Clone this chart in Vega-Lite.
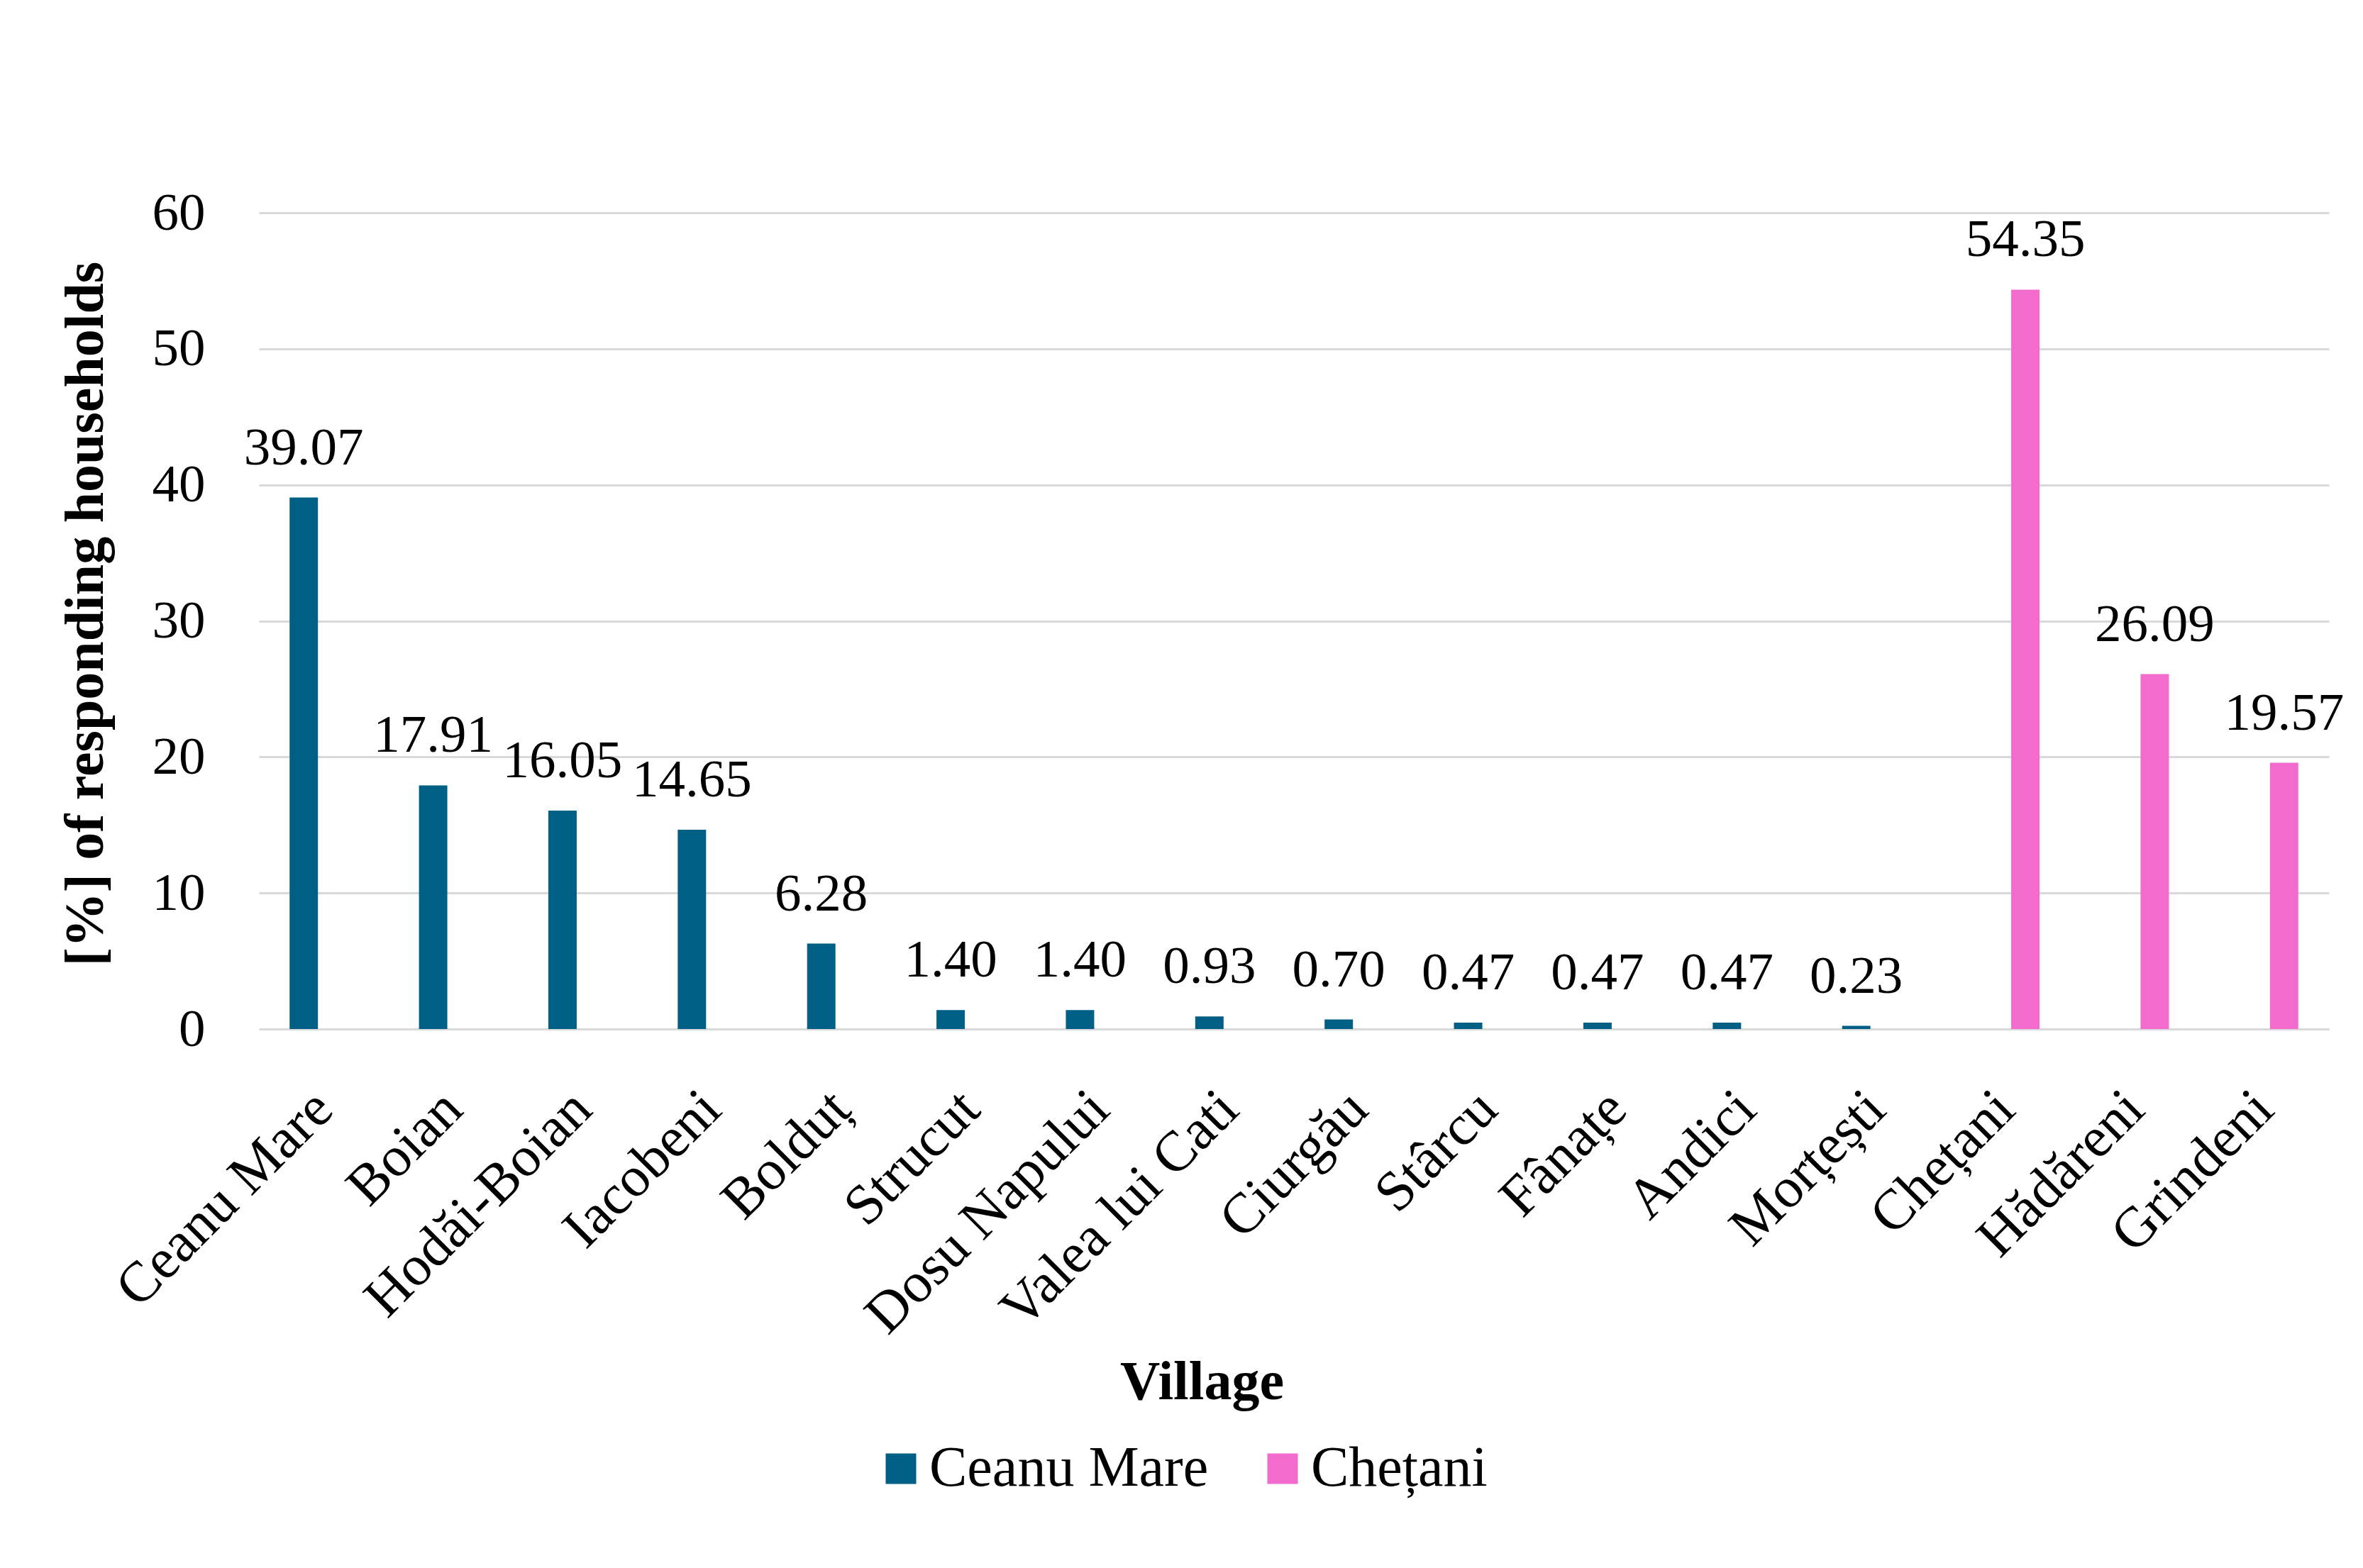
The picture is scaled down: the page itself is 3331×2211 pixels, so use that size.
{
  "$schema": "https://vega.github.io/schema/vega-lite/v6.json",
  "width": 2918,
  "height": 1151,
  "autosize": {"type": "none"},
  "padding": {"left": 365, "top": 300, "right": 48, "bottom": 760},
  "background": "white",
  "config": {"view": {"stroke": null}, "font": "Liberation Serif"},
  "data": {
    "values": [
      {"village": "Ceanu Mare", "group": "Ceanu Mare", "value": 39.07},
      {"village": "Boian", "group": "Ceanu Mare", "value": 17.91},
      {"village": "Hodăi-Boian", "group": "Ceanu Mare", "value": 16.05},
      {"village": "Iacobeni", "group": "Ceanu Mare", "value": 14.65},
      {"village": "Bolduț", "group": "Ceanu Mare", "value": 6.28},
      {"village": "Strucut", "group": "Ceanu Mare", "value": 1.40},
      {"village": "Dosu Napului", "group": "Ceanu Mare", "value": 1.40},
      {"village": "Valea lui Cati", "group": "Ceanu Mare", "value": 0.93},
      {"village": "Ciurgău", "group": "Ceanu Mare", "value": 0.70},
      {"village": "Stârcu", "group": "Ceanu Mare", "value": 0.47},
      {"village": "Fânațe", "group": "Ceanu Mare", "value": 0.47},
      {"village": "Andici", "group": "Ceanu Mare", "value": 0.47},
      {"village": "Morțești", "group": "Ceanu Mare", "value": 0.23},
      {"village": "Chețani", "group": "Chețani", "value": 54.35},
      {"village": "Hădăreni", "group": "Chețani", "value": 26.09},
      {"village": "Grindeni", "group": "Chețani", "value": 19.57}
    ]
  },
  "encoding": {
    "x": {
      "field": "village", "type": "nominal", "sort": null,
      "scale": {"paddingInner": 0.474, "paddingOuter": 0.237},
      "axis": {
        "title": "Village", "labelAngle": -45, "labelFontSize": 80, "labelColor": "black",
        "labelBaseline": "middle", "labelAlign": "right",
        "labelPadding": 100, "ticks": false, "domainColor": "#d9d9d9", "domainWidth": 3,
        "labelLimit": 0, "titleFontSize": 78, "titleFontWeight": "bold", "titleColor": "black",
        "titleBaseline": "middle", "titleY": 498, "titleX": 1329
      }
    },
    "xOffset": {
      "field": "group", "type": "nominal", "sort": ["Ceanu Mare", "Chețani"],
      "scale": {"paddingInner": 0.286, "paddingOuter": 0}
    },
    "y": {
      "field": "value", "type": "quantitative",
      "scale": {"domain": [0, 60]},
      "axis": {
        "values": [0, 10, 20, 30, 40, 50, 60], "title": "[%] of responding households",
        "grid": true, "gridColor": "#d9d9d9", "gridWidth": 3, "domain": false, "ticks": false,
        "labelPadding": 76, "labelFontSize": 75, "labelColor": "black",
        "titleFontSize": 78, "titleFontWeight": "bold", "titleColor": "black",
        "titleX": -244, "titleY": 565, "titleBaseline": "middle"
      }
    }
  },
  "layer": [
    {
      "mark": {"type": "bar"},
      "encoding": {
        "color": {
          "field": "group", "type": "nominal",
          "scale": {"domain": ["Ceanu Mare", "Chețani"], "range": ["#005F84", "#F46BCE"]},
          "legend": {
            "orient": "none", "legendX": 865, "legendY": 1731, "direction": "horizontal",
            "title": null, "labelFontSize": 80, "labelColor": "black", "symbolType": "square",
            "symbolSize": 1850, "symbolStrokeWidth": 0, "columnPadding": 64, "labelOffset": 0,
            "padding": 0, "labelLimit": 2000
          }
        }
      }
    },
    {
      "mark": {"type": "text", "baseline": "alphabetic", "dy": -47, "fontSize": 75, "color": "black"},
      "encoding": {"text": {"field": "value", "type": "quantitative", "format": ".2f"}}
    }
  ]
}
